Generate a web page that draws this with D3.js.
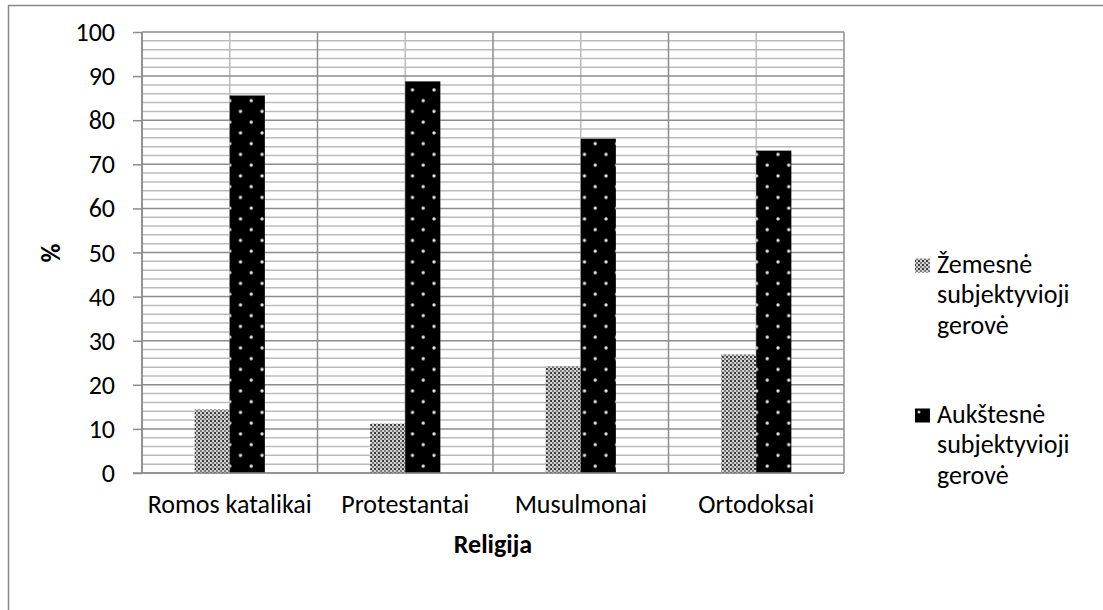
<!DOCTYPE html>
<html><head><meta charset="utf-8">
<script src="https://cdn.jsdelivr.net/npm/d3@7"></script>
<style>body{margin:0;background:#fff}svg{display:block}text{font-family:Carlito,Calibri,"Open Sans",sans-serif}</style>
</head><body>
<svg id="c" width="1103" height="610"></svg>
<script>
const categories = ["Romos katalikai","Protestantai","Musulmonai","Ortodoksai"];
const lowerValues = [14.4, 11.2, 24.2, 26.9];
const higherValues = [85.6, 88.8, 75.8, 73.1];
const seriesNames = [["Žemesnė","subjektyvioji","gerovė"],["Aukštesnė","subjektyvioji","gerovė"]];
const yTicks = [0,10,20,30,40,50,60,70,80,90,100];
const xTitle = "Religija", yTitle = "%";

const FS = 26;
const svg = d3.select("#c");
const defs = svg.append("defs");
// checker pattern
const p1 = defs.append("pattern").attr("id","chk").attr("patternUnits","userSpaceOnUse").attr("width",4).attr("height",4);
p1.append("rect").attr("width",4).attr("height",4).attr("fill","#7a7a7a");
p1.append("rect").attr("x",0).attr("y",0).attr("width",2).attr("height",2).attr("fill","#d4d4d4");
p1.append("rect").attr("x",2).attr("y",2).attr("width",2).attr("height",2).attr("fill","#d4d4d4");
p1.append("rect").attr("x",2).attr("y",0).attr("width",2).attr("height",2).attr("fill","#3c3c3c");
// dotted pattern
const p2 = defs.append("pattern").attr("id","dot").attr("patternUnits","userSpaceOnUse").attr("width",21.5).attr("height",21.5);
p2.append("rect").attr("width",21.5).attr("height",21.5).attr("fill","#000");
p2.append("circle").attr("cx",4).attr("cy",4).attr("r",1.7).attr("fill","#e6e6e6");
p2.append("circle").attr("cx",14.75).attr("cy",14.75).attr("r",1.7).attr("fill","#e6e6e6");
const p3 = defs.append("pattern").attr("id","dotl").attr("patternUnits","userSpaceOnUse").attr("width",15).attr("height",14).attr("x",915).attr("y",0);
p3.append("rect").attr("width",15).attr("height",14).attr("fill","#000");
p3.append("circle").attr("cx",4).attr("cy",6).attr("r",1.5).attr("fill","#ccc");

// outer border
svg.append("path").attr("d","M8.5,620 V5.5 H1110").attr("fill","none").attr("stroke","#888").attr("stroke-width",1.5);

const L=142, R=844, T=32, B=473;
const x = d3.scaleBand().domain(categories).range([L,R]);
const y = d3.scaleLinear().domain([0,100]).range([B,T]);
const bw = x.bandwidth()/5;

const g = svg.append("g");
// minor horizontal grid
d3.range(0,101,2).filter(v=>v%10!==0).forEach(v=>{
  g.append("line").attr("x1",L).attr("x2",R).attr("y1",y(v)).attr("y2",y(v)).attr("stroke","#bbb").attr("stroke-width",1.5);
});
// minor vertical grid (category centers)
categories.forEach(c=>{
  const cx = x(c)+x.bandwidth()/2;
  g.append("line").attr("x1",cx).attr("x2",cx).attr("y1",T).attr("y2",B).attr("stroke","#bbb").attr("stroke-width",1.5);
});
// major horizontal grid
yTicks.forEach(v=>{
  g.append("line").attr("x1",L).attr("x2",R).attr("y1",y(v)).attr("y2",y(v)).attr("stroke","#8c8c8c").attr("stroke-width",1.5);
});
// major vertical grid
categories.concat([null]).forEach((c,i)=>{
  const xx = c===null ? R : x(c);
  g.append("line").attr("x1",xx).attr("x2",xx).attr("y1",T).attr("y2",B).attr("stroke","#8c8c8c").attr("stroke-width",1.5);
});

// bars
categories.forEach((c,i)=>{
  const cx = x(c)+x.bandwidth()/2;
  g.append("rect").attr("x",cx-bw).attr("width",bw).attr("y",y(lowerValues[i])).attr("height",B-y(lowerValues[i])).attr("fill","url(#chk)");
  g.append("rect").attr("x",cx).attr("width",bw).attr("y",y(higherValues[i])).attr("height",B-y(higherValues[i])).attr("fill","url(#dot)");
});

// axes
const ya = svg.append("g").attr("transform",`translate(${L},0)`).call(d3.axisLeft(y).tickValues(yTicks).tickSize(9).tickPadding(18));
ya.select(".domain").attr("stroke","#8c8c8c").attr("stroke-width",1.5).attr("d",`M0,${T}V${B}`);
ya.selectAll(".tick line").attr("stroke","#8c8c8c").attr("stroke-width",1.5);
ya.selectAll(".tick text").attr("font-size",FS).attr("fill","#000").attr("dy","0.33em");
svg.append("line").attr("x1",L-9).attr("x2",R).attr("y1",B).attr("y2",B).attr("stroke","#8c8c8c").attr("stroke-width",1.5);

const xa = svg.append("g").attr("transform",`translate(0,${B})`).call(d3.axisBottom(x).tickSize(0).tickPadding(22));
xa.select(".domain").remove();
xa.selectAll(".tick text").attr("font-size",FS).attr("fill","#000");

svg.append("text").attr("x",(L+R)/2).attr("y",553).attr("text-anchor","middle").attr("font-weight","bold").attr("font-size",FS).text(xTitle);
svg.append("text").attr("transform","translate(60,253) rotate(-90)").attr("text-anchor","middle").attr("font-weight","bold").attr("font-size",FS).text(yTitle);

// legend
const fills = ["url(#chk)","url(#dotl)"];
const legY = [272.5, 422.5];
seriesNames.forEach((lines,i)=>{
  svg.append("rect").attr("x",915).attr("y",legY[i]-14).attr("width",15).attr("height",14).attr("fill",fills[i]);
  const t = svg.append("text").attr("x",937).attr("y",legY[i]).attr("font-size",FS).attr("fill","#000");
  lines.forEach((l,j)=>t.append("tspan").attr("x",937).attr("dy",j===0?0:30.5).text(l));
});
</script>
</body></html>
